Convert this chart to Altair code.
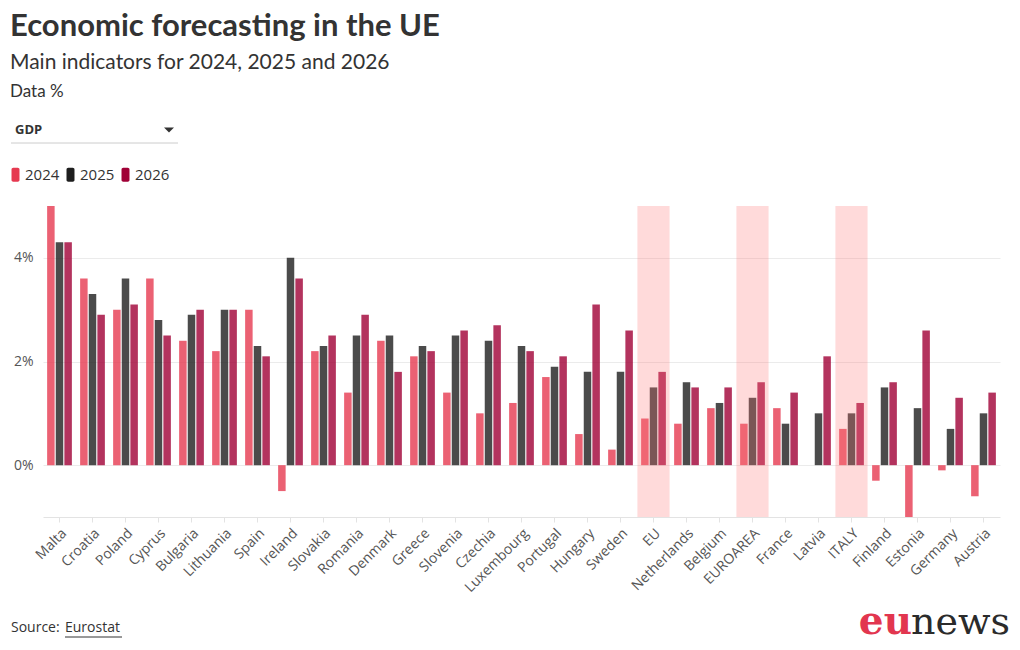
import altair as alt
import pandas as pd

countries = ["Malta", "Croatia", "Poland", "Cyprus", "Bulgaria", "Lithuania", "Spain",
             "Ireland", "Slovakia", "Romania", "Denmark", "Greece", "Slovenia", "Czechia",
             "Luxembourg", "Portugal", "Hungary", "Sweden", "EU", "Netherlands", "Belgium",
             "EUROAREA", "France", "Latvia", "ITALY", "Finland", "Estonia", "Germany", "Austria"]
years = ["2024", "2025", "2026"]
gdp_2024 = [5.0, 3.6, 3.0, 3.6, 2.4, 2.2, 3.0, -0.5, 2.2, 1.4, 2.4, 2.1, 1.4, 1.0, 1.2, 1.7,
            0.6, 0.3, 0.9, 0.8, 1.1, 0.8, 1.1, None, 0.7, -0.3, -1.0, -0.1, -0.6]
gdp_2025 = [4.3, 3.3, 3.6, 2.8, 2.9, 3.0, 2.3, 4.0, 2.3, 2.5, 2.5, 2.3, 2.5, 2.4, 2.3, 1.9,
            1.8, 1.8, 1.5, 1.6, 1.2, 1.3, 0.8, 1.0, 1.0, 1.5, 1.1, 0.7, 1.0]
gdp_2026 = [4.3, 2.9, 3.1, 2.5, 3.0, 3.0, 2.1, 3.6, 2.5, 2.9, 1.8, 2.2, 2.6, 2.7, 2.2, 2.1,
            3.1, 2.6, 1.8, 1.5, 1.5, 1.6, 1.4, 2.1, 1.2, 1.6, 2.6, 1.3, 1.4]
highlighted = ["EU", "EUROAREA", "ITALY"]
year_colors = ["#e63950", "#1e1e1e", "#a00036"]

rows = []
for i, c in enumerate(countries):
    for yr, vals in zip(years, [gdp_2024, gdp_2025, gdp_2026]):
        if vals[i] is not None:
            rows.append({"country": c, "year": yr, "value": vals[i]})
df = pd.DataFrame(rows)

W, H = 957, 311
FONT = "Open Sans"
TFONT = "Lato"

legend_symbol = ("M-0.57,-0.75 A0.25,0.25 0 0 1 -0.32,-1 L0.32,-1 A0.25,0.25 0 0 1 0.57,-0.75 "
                 "L0.57,0.75 A0.25,0.25 0 0 1 0.32,1 L-0.32,1 A0.25,0.25 0 0 1 -0.57,0.75 Z")

x_enc = alt.X(
    "country:N", sort=countries, title=None,
    scale=alt.Scale(paddingInner=0.25, paddingOuter=0.125),
    axis=alt.Axis(labelAngle=-45, labelFontSize=14, labelColor="#555555", labelFont=FONT,
                  domainColor="#e3e3e3", tickColor="#e3e3e3", tickSize=5, labelPadding=4,
                  grid=False),
)

bars = alt.Chart(df).mark_bar(opacity=0.8).encode(
    x=x_enc,
    xOffset=alt.XOffset("year:N", sort=years, scale=alt.Scale(paddingInner=0.13)),
    y=alt.Y("value:Q", title=None,
            scale=alt.Scale(domain=[-1, 5], nice=False),
            axis=alt.Axis(values=[0, 2, 4], labelExpr="datum.value + '%'", domain=False,
                          ticks=False, gridColor="#ebebeb", labelFontSize=14,
                          labelColor="#555555", labelFont=FONT, labelPadding=10)),
    color=alt.Color("year:N", scale=alt.Scale(domain=years, range=year_colors),
                    legend=alt.Legend(orient="none", legendX=-35, legendY=-39,
                                      direction="horizontal", title=None,
                                      labelFontSize=15, labelColor="#333333", labelFont=FONT,
                                      symbolType=legend_symbol, symbolSize=196,
                                      symbolOpacity=1, symbolStrokeWidth=0,
                                      labelOffset=2, columnPadding=3)),
)

overlay = alt.Chart(pd.DataFrame({"country": highlighted})).mark_bar(
    width=alt.RelativeBandSize(1.3), color="#ff7373", opacity=0.265
).encode(
    x=alt.X("country:N", sort=countries, title=None),
    y=alt.value(0),
    y2=alt.value(H),
)


def txt(s, x, y, size, weight="normal", color="#333333", font=FONT, align="left",
        baseline="middle"):
    return alt.Chart(pd.DataFrame({"t": [s]})).mark_text(
        align=align, baseline=baseline, fontSize=size, fontWeight=weight, color=color, font=font
    ).encode(x=alt.value(x), y=alt.value(y), text="t:N")


title = txt("Economic forecasting in the UE", -33, -179, 31, "bold", font=TFONT)
subtitle = txt("Main indicators for 2024, 2025 and 2026", -33, -143, 21, font=TFONT)
unit = txt("Data %", -33, -114, 17, font=TFONT)
dropdown = txt("GDP", -28, -76, 13, "bold")
tri = alt.Chart(pd.DataFrame({"t": [0]})).mark_point(
    shape="M-1,-0.5 L1,-0.5 L0,0.5 Z", filled=True, size=100, color="#333333", opacity=1
).encode(x=alt.value(126), y=alt.value(-76))
underline = alt.Chart(pd.DataFrame({"t": [0]})).mark_rule(color="#cccccc").encode(
    x=alt.value(-32), x2=alt.value(135), y=alt.value(-63))

source = txt("Source:", -32, 422, 14)
eurostat = txt("Eurostat", 22, 422, 14)
src_line = alt.Chart(pd.DataFrame({"t": [0]})).mark_rule(color="#333333").encode(
    x=alt.value(22), x2=alt.value(79), y=alt.value(431))

logo_eu = txt("eu", 869, 428, 39, "bold", color="#e2364f", font="DejaVu Serif",
              align="right", baseline="alphabetic")
logo_news = txt("news", 967, 428, 38, "normal", color="#2b2b2b", font="DejaVu Serif",
                align="right", baseline="alphabetic")

chart = alt.layer(
    bars, overlay, title, subtitle, unit, dropdown, tri, underline,
    source, eurostat, src_line, logo_eu, logo_news
).properties(
    width=W, height=H,
    autosize=alt.AutoSizeParams(type="none"),
    padding={"left": 43, "top": 206, "right": 20, "bottom": 133},
).configure_view(strokeWidth=0).configure_legend(padding=0)

chart.save("out.html", embed_options={"renderer": "svg", "actions": False})
